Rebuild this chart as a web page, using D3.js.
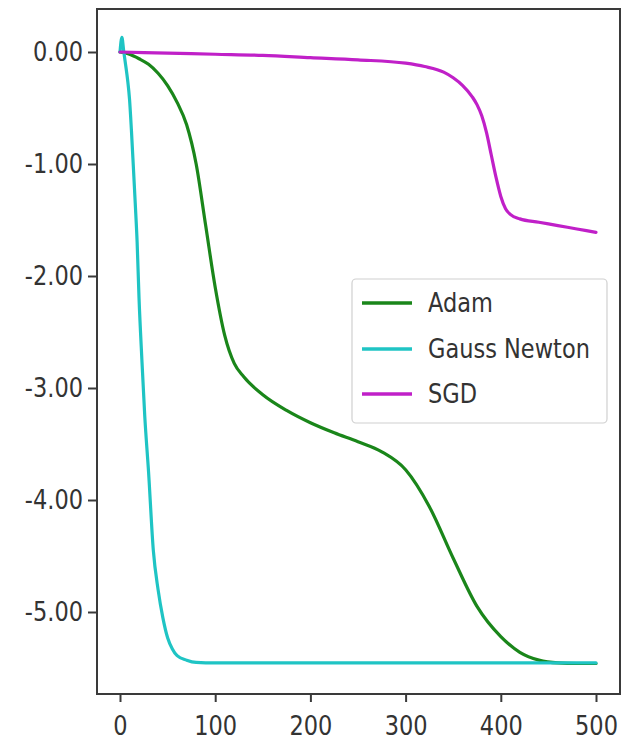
<!DOCTYPE html>
<html>
<head>
<meta charset="utf-8">
<script src="https://cdn.jsdelivr.net/npm/d3@7"></script>
<style>
  html, body { margin: 0; padding: 0; background: #fff; }
  svg { display: block; }
  text { font-family: "DejaVu Sans", sans-serif; fill: #333; }
</style>
</head>
<body>
<svg id="chart" width="621" height="745"></svg>
<script>
// ---- data ----
const seriesNames = ["Adam", "Gauss Newton", "SGD"];
const seriesColors = ["#1a861a", "#1fc4c4", "#c020c8"];

const adamX = [0, 10, 20, 30, 40, 50, 60, 70, 80, 90, 100, 110, 120, 130, 150, 175, 200, 225, 250, 275, 300, 325, 350, 375, 400, 420, 440, 460, 480, 500];
const adamY = [0, -0.02, -0.06, -0.11, -0.19, -0.3, -0.45, -0.65, -1.0, -1.55, -2.1, -2.53, -2.78, -2.9, -3.06, -3.2, -3.31, -3.4, -3.48, -3.57, -3.73, -4.06, -4.52, -4.95, -5.22, -5.36, -5.43, -5.455, -5.46, -5.46];

const gnX = [0, 2, 4, 6, 8, 10, 12, 14, 16, 18, 20, 23, 26, 30, 35, 40, 45, 50, 55, 60, 70, 80, 100, 150, 200, 250, 300, 350, 400, 450, 500];
const gnY = [0, 0.13, 0.0, -0.12, -0.25, -0.42, -0.7, -1.02, -1.35, -1.7, -2.2, -2.75, -3.25, -3.75, -4.45, -4.8, -5.05, -5.23, -5.33, -5.39, -5.43, -5.45, -5.455, -5.455, -5.455, -5.455, -5.455, -5.455, -5.455, -5.455, -5.455];

const sgdX = [0, 50, 100, 150, 200, 250, 300, 320, 340, 350, 360, 370, 375, 380, 385, 390, 395, 400, 405, 410, 420, 440, 460, 480, 500];
const sgdY = [0, -0.01, -0.02, -0.03, -0.05, -0.07, -0.1, -0.13, -0.18, -0.23, -0.3, -0.4, -0.47, -0.57, -0.72, -0.92, -1.12, -1.29, -1.4, -1.45, -1.49, -1.52, -1.55, -1.58, -1.61];

const xTicks = [0, 100, 200, 300, 400, 500];
const xTickLabels = ["0", "100", "200", "300", "400", "500"];
const yTicks = [0, -1, -2, -3, -4, -5];
const yTickLabels = ["0.00", "-1.00", "-2.00", "-3.00", "-4.00", "-5.00"];

// ---- layout ----
const frame = { left: 97, right: 620, top: 9, bottom: 694 };
const svg = d3.select("#chart");

const x = d3.scaleLinear().domain([0, 500]).range([120, 596]);
const y = d3.scaleLinear().domain([0, -5]).range([52, 612]);

const FS = 22.5, VS = 1.15;

// frame
svg.append("rect")
  .attr("x", frame.left).attr("y", frame.top)
  .attr("width", frame.right - frame.left).attr("height", frame.bottom - frame.top)
  .attr("fill", "none").attr("stroke", "#3a3a3a").attr("stroke-width", 2);

// lines
const series = [
  { xs: adamX, ys: adamY },
  { xs: gnX, ys: gnY },
  { xs: sgdX, ys: sgdY }
];
const line = d3.line().x(d => x(d[0])).y(d => y(d[1])).curve(d3.curveMonotoneX);

series.forEach((s, i) => {
  const pts = s.xs.map((v, j) => [v, s.ys[j]]);
  svg.append("path")
    .attr("d", line(pts))
    .attr("fill", "none")
    .attr("stroke", seriesColors[i])
    .attr("stroke-width", 3.2)
    .attr("stroke-linejoin", "round")
    .attr("stroke-linecap", "round");
});

// axes
const yAxis = d3.axisLeft(y).tickValues(yTicks)
  .tickFormat((d, i) => yTickLabels[i]).tickSize(9).tickPadding(5);
const gy = svg.append("g").attr("transform", `translate(${frame.left},0)`).call(yAxis);
gy.select(".domain").remove();
gy.selectAll(".tick line").attr("stroke", "#3a3a3a").attr("stroke-width", 2);
gy.selectAll(".tick text")
  .attr("font-size", FS).attr("fill", "#333")
  .attr("font-family", "DejaVu Sans, sans-serif")
  .attr("transform", `scale(1,${VS})`);

const xAxis = d3.axisBottom(x).tickValues(xTicks)
  .tickFormat((d, i) => xTickLabels[i]).tickSize(8).tickPadding(12);
const gx = svg.append("g").attr("transform", `translate(0,${frame.bottom})`).call(xAxis);
gx.select(".domain").remove();
gx.selectAll(".tick line").attr("stroke", "#3a3a3a").attr("stroke-width", 2);
gx.selectAll(".tick text")
  .attr("font-size", FS).attr("fill", "#333")
  .attr("font-family", "DejaVu Sans, sans-serif")
  .attr("transform", `scale(1,${VS})`);

// legend
const lg = svg.append("g");
lg.append("rect")
  .attr("x", 352).attr("y", 279).attr("width", 255).attr("height", 144)
  .attr("rx", 4).attr("fill", "#fff").attr("fill-opacity", 0.85)
  .attr("stroke", "#d0d0d0").attr("stroke-width", 1.2);
const legendY = [303, 349, 394];
seriesNames.forEach((name, i) => {
  lg.append("line")
    .attr("x1", 362).attr("x2", 412)
    .attr("y1", legendY[i]).attr("y2", legendY[i])
    .attr("stroke", seriesColors[i]).attr("stroke-width", 3.5);
  lg.append("text")
    .attr("transform", `translate(428,${legendY[i]}) scale(1,${VS})`)
    .attr("dy", "0.36em")
    .attr("font-size", FS)
    .text(name);
});
</script>
</body>
</html>
